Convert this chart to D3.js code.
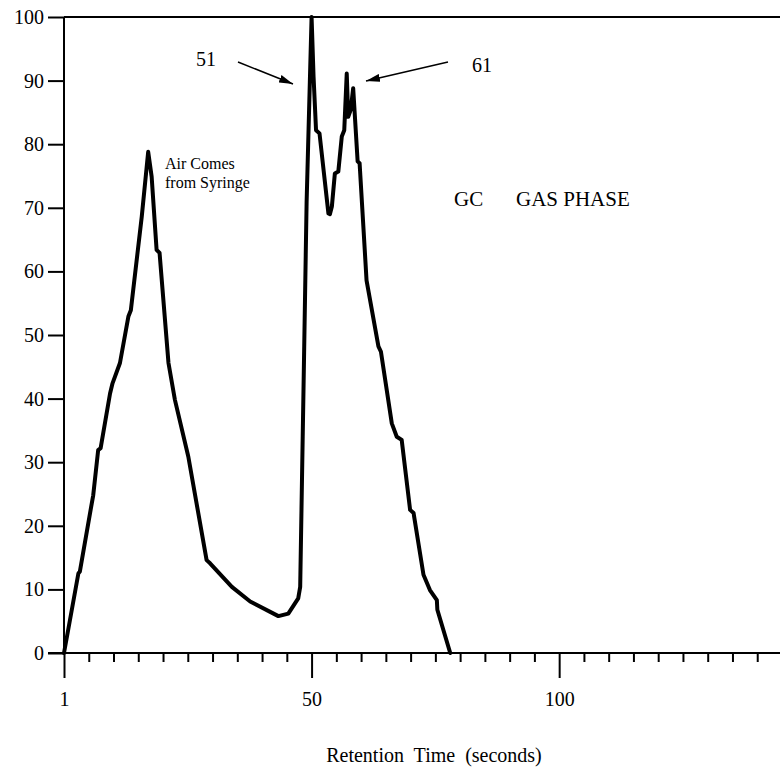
<!DOCTYPE html>
<html>
<head>
<meta charset="utf-8">
<script src="https://cdn.jsdelivr.net/npm/d3@7"></script>
<style>
  body { margin: 0; background: #fff; }
  svg { display: block; font-family: 'Liberation Serif', 'Times New Roman', serif; }
</style>
</head>
<body>
<div id="chart"></div>
<script>
// retention time (axis units, first sample shown as "1") and detector signal
const times  = [0, 2.9, 3.2, 5.6, 5.9, 6.9, 7.4, 9.3, 9.8, 11.3, 13.0, 13.5, 15.7, 17.0,
                17.7, 18.7, 19.3, 21.1, 22.4, 25.1, 28.8, 29.5, 33.9, 37.6, 43.3, 45.3,
                47.3, 47.7, 48.4, 48.7, 49.0, 50.0, 50.4, 50.9, 51.6, 53.4, 53.7, 54.1,
                54.7, 55.4, 56.1, 56.6, 57.1, 57.4, 57.9, 58.4, 59.3, 59.7, 61.1, 63.5,
                64.0, 66.2, 67.2, 68.2, 69.9, 70.6, 72.6, 73.9, 75.3, 75.4, 78.0];
const signal = [0, 12.5, 12.8, 23.5, 24.8, 31.9, 32.2, 40.8, 42.4, 45.6, 52.9, 53.9, 68.6, 78.8,
                74.9, 63.4, 62.9, 45.6, 39.8, 30.9, 14.6, 14.1, 10.4, 8.1, 5.8, 6.2,
                8.6, 10.4, 42.9, 57.0, 71.0, 100, 90.6, 82.2, 81.7, 69.1, 69.0, 70.2,
                75.4, 75.7, 81.2, 82.2, 91.1, 84.3, 85.4, 88.8, 77.3, 77.0, 58.6, 48.2,
                47.4, 36.1, 34.0, 33.5, 22.5, 22.0, 12.3, 9.9, 8.3, 6.8, 0];

const yTicks = [0, 10, 20, 30, 40, 50, 60, 70, 80, 90, 100];
const xMajorTicks = [0, 50, 100];
const xMajorLabels = ['1', '50', '100'];
const xMinorTicks = d3.range(5, 145, 5).filter(d => !xMajorTicks.includes(d));

const width = 780;
const height = 769;

const svg = d3.select('#chart')
  .append('svg')
  .attr('width', width)
  .attr('height', height);

svg.append('rect').attr('width', width).attr('height', height).attr('fill', '#fff');

/* Scales */
const x = d3.scaleLinear().domain([0, 144.6]).range([64, 780]);
const y = d3.scaleLinear().domain([0, 100]).range([653, 17]);

/* Y axis with ticks pointing left */
const yAxis = svg.append('g')
  .attr('transform', `translate(${x(0)},0)`)
  .call(d3.axisLeft(y).tickValues(yTicks).tickSize(16).tickPadding(4));
yAxis.select('.domain').remove();
yAxis.selectAll('line').attr('stroke', '#000').attr('stroke-width', 2);
yAxis.selectAll('text')
  .attr('font-size', 20)
  .attr('fill', '#000')
  .attr('font-family', 'Liberation Serif');

svg.append('line')
  .attr('x1', x(0)).attr('x2', x(0))
  .attr('y1', y(100)).attr('y2', y(0))
  .attr('stroke', '#000').attr('stroke-width', 2);

/* top frame line */
svg.append('line')
  .attr('x1', x(0)).attr('x2', width)
  .attr('y1', y(100)).attr('y2', y(100))
  .attr('stroke', '#000').attr('stroke-width', 2);

/* X axis: minor ticks, then major ticks with labels */
const xMinor = svg.append('g')
  .attr('transform', `translate(0,${y(0)})`)
  .call(d3.axisBottom(x).tickValues(xMinorTicks).tickSize(9).tickFormat(''));
xMinor.select('.domain').remove();
xMinor.selectAll('line').attr('stroke', '#000').attr('stroke-width', 2);

const xMajor = svg.append('g')
  .attr('transform', `translate(0,${y(0)})`)
  .call(d3.axisBottom(x).tickValues(xMajorTicks).tickSize(25).tickPadding(14)
    .tickFormat((d, i) => xMajorLabels[i]));
xMajor.select('.domain').remove();
xMajor.selectAll('line').attr('stroke', '#000').attr('stroke-width', 2);
xMajor.selectAll('text')
  .attr('font-size', 20)
  .attr('fill', '#000')
  .attr('font-family', 'Liberation Serif');

svg.append('line')
  .attr('x1', x(0) - 16).attr('x2', width)
  .attr('y1', y(0)).attr('y2', y(0))
  .attr('stroke', '#000').attr('stroke-width', 2);

svg.append('text')
  .attr('x', 434)
  .attr('y', 762)
  .attr('text-anchor', 'middle')
  .attr('font-size', 20)
  .style('white-space', 'pre')
  .text('Retention  Time  (seconds)');

/* the chromatogram trace */
const points = times.map((t, i) => [t, signal[i]]);
const line = d3.line().x(d => x(d[0])).y(d => y(d[1]));

svg.append('path')
  .datum(points)
  .attr('d', line)
  .attr('fill', 'none')
  .attr('stroke', '#000')
  .attr('stroke-width', 4)
  .attr('stroke-linejoin', 'round')
  .attr('stroke-linecap', 'round');

/* annotations */
svg.append('defs').append('marker')
  .attr('id', 'arrow')
  .attr('viewBox', '0 0 14 8')
  .attr('refX', 14).attr('refY', 4)
  .attr('markerWidth', 14).attr('markerHeight', 8)
  .attr('markerUnits', 'userSpaceOnUse')
  .attr('orient', 'auto')
  .append('path')
  .attr('d', 'M0,0 L14,4 L0,8 Z')
  .attr('fill', '#000');

const arrows = [
  { label: '51', lx: 196, ly: 66, x1: 238, y1: 62, x2: 293, y2: 84 },
  { label: '61', lx: 472, ly: 72, x1: 448, y1: 62, x2: 366, y2: 81 }
];

arrows.forEach(a => {
  svg.append('text')
    .attr('x', a.lx).attr('y', a.ly)
    .attr('font-size', 20)
    .text(a.label);
  svg.append('line')
    .attr('x1', a.x1).attr('y1', a.y1)
    .attr('x2', a.x2).attr('y2', a.y2)
    .attr('stroke', '#000')
    .attr('stroke-width', 1.5)
    .attr('marker-end', 'url(#arrow)');
});

svg.append('text')
  .attr('x', 165).attr('y', 169)
  .attr('font-size', 16)
  .text('Air Comes');
svg.append('text')
  .attr('x', 165).attr('y', 188)
  .attr('font-size', 16)
  .text('from Syringe');

svg.append('text')
  .attr('x', 454).attr('y', 206)
  .attr('font-size', 21)
  .text('GC');
svg.append('text')
  .attr('x', 516).attr('y', 206)
  .attr('font-size', 21)
  .text('GAS PHASE');
</script>
</body>
</html>
